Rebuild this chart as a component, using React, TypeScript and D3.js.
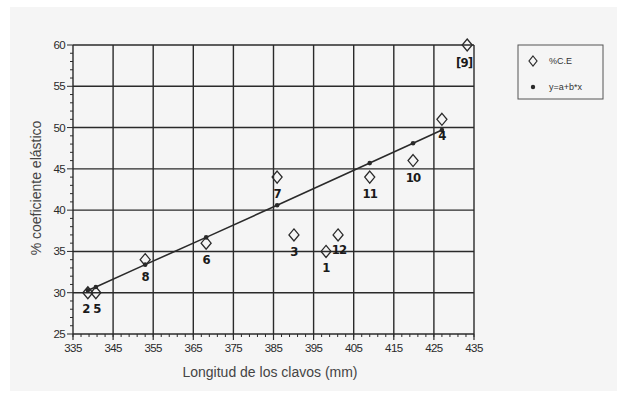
import React from 'react';
import * as d3 from 'd3';

// measured points (%C.E) with their sample numbers
const sampleLabels = ['2', '5', '8', '6', '7', '3', '1', '12', '11', '10', '4', '[9]'];
const lengthMm = [338.7, 340.7, 353, 368.2, 385.9, 390.1, 398.1, 401.1, 409, 419.8, 427, 433.3];
const elasticPct = [30, 30, 34, 36, 44, 37, 35, 37, 44, 46, 51, 60];

// fitted line y=a+b*x
const fitX = [338.7, 340.7, 353, 368.2, 385.9, 409, 419.8, 427];
const fitY = [30.3, 30.7, 33.4, 36.7, 40.6, 45.7, 48.1, 49.7];

const xTicks = [335, 345, 355, 365, 375, 385, 395, 405, 415, 425, 435];
const yTicks = [25, 30, 35, 40, 45, 50, 55, 60];

const W = 621;
const H = 394;
const left = 73, right = 474, top = 45, bottom = 334;

const diamond = (cx: number, cy: number, w = 5, h = 6) =>
  `M${cx},${cy - h}L${cx + w},${cy}L${cx},${cy + h}L${cx - w},${cy}Z`;

const labelOffset: Record<string, [number, number]> = {
  '2': [-2, 15], '5': [1, 15], '12': [1, 14], '1': [0, 16], '[9]': [-3, 17],
};

export default function App() {
  const x = d3.scaleLinear().domain([335, 435]).range([left, right]);
  const y = d3.scaleLinear().domain([25, 60]).range([bottom, top]);

  const line = d3.line<number>()
    .x((_, i) => x(fitX[i]))
    .y((d) => y(d));

  const xMinor = d3.range(335, 435.1, 2);
  const yMinor = d3.range(25, 60.1, 1);
  const ink = '#2a2a2a';
  const labelFont = '"DejaVu Sans Condensed", "DejaVu Sans", sans-serif';

  return (
    <svg width={W} height={H} style={{ position: 'absolute', left: 0, top: 0 }}
      fontFamily="Arial, 'Liberation Sans', sans-serif">
      <rect width={W} height={H} fill="#ffffff" />
      <rect x={10} y={7} width={W - 14} height={H - 10} fill="#f5f5f5" />

      {/* grid */}
      {xTicks.map((t) => (
        <line key={'gx' + t} x1={x(t)} x2={x(t)} y1={top} y2={bottom} stroke={ink} strokeWidth={1.4} />
      ))}
      {yTicks.map((t) => (
        <line key={'gy' + t} x1={left} x2={right} y1={y(t)} y2={y(t)} stroke={ink} strokeWidth={1.4} />
      ))}

      {/* minor ticks */}
      {yMinor.map((t) => (
        <line key={'my' + t} x1={left - (t % 5 === 0 ? 6 : 3)} x2={left} y1={y(t)} y2={y(t)} stroke={ink} strokeWidth={1} />
      ))}
      {xMinor.map((t) => (
        <line key={'mx' + t} x1={x(t)} x2={x(t)} y1={bottom} y2={bottom + 3} stroke={ink} strokeWidth={1} />
      ))}
      {xTicks.map((t) => (
        <line key={'tx' + t} x1={x(t)} x2={x(t)} y1={bottom} y2={bottom + 6} stroke={ink} strokeWidth={1.2} />
      ))}

      {/* tick labels */}
      {xTicks.map((t) => (
        <text key={'lx' + t} x={x(t)} y={bottom + 18} textAnchor="middle" fontSize={11.5} fill="#2a2a2a"
          letterSpacing={-0.6}>{t}</text>
      ))}
      {yTicks.map((t) => (
        <text key={'ly' + t} x={left - 8} y={y(t) + 4} textAnchor="end" fontSize={11.5} fill="#2a2a2a"
          letterSpacing={-0.6}>{t}</text>
      ))}

      {/* axis titles */}
      <text x={270} y={377} textAnchor="middle" fontSize={14} fill="#444">Longitud de los clavos (mm)</text>
      <text transform={`translate(41,188) rotate(-90)`} textAnchor="middle" fontSize={14} fill="#444">
        % coeficiente elástico
      </text>

      {/* fitted line and its points */}
      <path d={line(fitY) || ''} fill="none" stroke={ink} strokeWidth={1.6} />
      {fitY.map((v, i) => (
        <circle key={'f' + i} cx={x(fitX[i])} cy={y(v)} r={2.3} fill={ink} />
      ))}

      {/* measured points */}
      {elasticPct.map((v, i) => (
        <path key={'p' + i} d={diamond(x(lengthMm[i]), y(v))} fill="none" stroke={ink} strokeWidth={1.3} />
      ))}
      {elasticPct.map((v, i) => {
        const lab = sampleLabels[i];
        const [dx, dy] = labelOffset[lab] || [0, 16];
        return (
          <text key={'t' + i} x={x(lengthMm[i]) + dx} y={y(v) + dy + 5} textAnchor="middle"
            fontSize={13} fontWeight="bold" fontFamily={labelFont} fill="#1a1a1a"
            letterSpacing={-0.8}>{lab}</text>
        );
      })}

      {/* legend */}
      <rect x={518} y={45} width={85} height={54} fill="none" stroke="#555" strokeWidth={1} />
      <path d={diamond(533, 61, 4, 5)} fill="none" stroke={ink} strokeWidth={1.2} />
      <text x={549} y={64} fontSize={9} fill="#333">%C.E</text>
      <circle cx={533} cy={87} r={2.2} fill={ink} />
      <text x={549} y={90} fontSize={9} fill="#333">y=a+b*x</text>
    </svg>
  );
}
